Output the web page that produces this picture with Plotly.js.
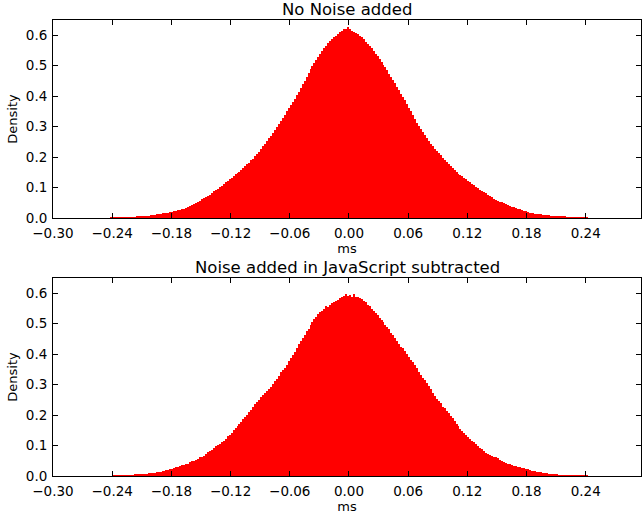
<!DOCTYPE html>
<html><head><meta charset="utf-8">
<script src="https://cdn.plot.ly/plotly-3.0.1.min.js"></script>
<style>html,body{margin:0;padding:0;background:#fff}#chart{width:642px;height:516px}</style>
</head><body><div id="chart"></div>
<script>
// histogram bins: first bin centre and bin width (ms)
const binStart = -0.243;
const binWidth = 0.002;
const subplotTitles = ["No Noise added", "Noise added in JavaScript subtracted"];
const xLabel = "ms";
const yLabel = "Density";

// density per bin, "No Noise added"
const noNoise = [
  0.001,0.002,0.003,0.003,0.003,0.003,0.003,0.003,0.003,0.003,0.004,0.004,0.004,0.004,0.005,0.005,0.006,0.006,0.007,0.007,
  0.008,0.009,0.010,0.011,0.012,0.013,0.014,0.015,0.016,0.017,0.018,0.020,0.021,0.022,0.023,0.025,0.027,0.029,0.031,0.034,
  0.036,0.040,0.043,0.046,0.049,0.053,0.057,0.061,0.065,0.069,0.073,0.077,0.082,0.087,0.091,0.096,0.101,0.106,0.111,0.117,
  0.122,0.127,0.132,0.137,0.143,0.148,0.152,0.158,0.164,0.170,0.176,0.182,0.189,0.195,0.202,0.210,0.217,0.226,0.235,0.244,
  0.252,0.262,0.270,0.280,0.289,0.299,0.308,0.318,0.329,0.339,0.350,0.360,0.371,0.381,0.392,0.404,0.415,0.427,0.439,0.451,
  0.464,0.476,0.488,0.498,0.510,0.520,0.530,0.540,0.549,0.557,0.566,0.573,0.581,0.587,0.593,0.599,0.605,0.609,0.615,0.619,
  0.622,0.626,0.619,0.615,0.609,0.607,0.603,0.597,0.593,0.587,0.579,0.571,0.565,0.557,0.548,0.540,0.532,0.522,0.513,0.503,
  0.495,0.485,0.474,0.464,0.453,0.443,0.431,0.419,0.408,0.396,0.386,0.374,0.362,0.350,0.338,0.326,0.313,0.303,0.292,0.282,
  0.271,0.261,0.252,0.244,0.236,0.228,0.221,0.213,0.206,0.198,0.191,0.183,0.177,0.171,0.164,0.158,0.152,0.146,0.141,0.137,
  0.132,0.127,0.121,0.117,0.111,0.107,0.101,0.097,0.093,0.089,0.085,0.081,0.077,0.072,0.068,0.064,0.060,0.056,0.053,0.051,
  0.048,0.045,0.042,0.040,0.037,0.035,0.032,0.030,0.028,0.026,0.024,0.022,0.020,0.018,0.017,0.015,0.014,0.013,0.012,0.012,
  0.011,0.010,0.010,0.009,0.008,0.008,0.007,0.007,0.006,0.006,0.005,0.005,0.004,0.004,0.003,0.003,0.003,0.003,0.002,0.002,
  0.002,0.002,0.002,0.001
];

// density per bin, "Noise added in JavaScript subtracted"
const jsNoise = [
  0.000,0.001,0.002,0.002,0.003,0.003,0.002,0.003,0.003,0.004,0.004,0.003,0.004,0.005,0.006,0.005,0.006,0.007,0.008,0.007,
  0.010,0.010,0.009,0.011,0.012,0.012,0.013,0.016,0.017,0.019,0.020,0.022,0.024,0.026,0.028,0.030,0.033,0.035,0.037,0.039,
  0.041,0.045,0.048,0.050,0.053,0.057,0.061,0.063,0.067,0.073,0.078,0.082,0.086,0.092,0.097,0.101,0.105,0.111,0.116,0.122,
  0.130,0.136,0.142,0.150,0.156,0.163,0.170,0.178,0.186,0.194,0.200,0.210,0.218,0.226,0.236,0.244,0.251,0.260,0.266,0.274,
  0.279,0.287,0.293,0.303,0.312,0.320,0.328,0.340,0.348,0.356,0.366,0.376,0.387,0.397,0.407,0.419,0.432,0.442,0.454,0.464,
  0.476,0.484,0.495,0.505,0.515,0.522,0.531,0.537,0.543,0.549,0.558,0.556,0.563,0.569,0.571,0.576,0.579,0.583,0.586,0.590,
  0.596,0.592,0.594,0.589,0.599,0.588,0.588,0.584,0.582,0.574,0.570,0.562,0.557,0.549,0.542,0.534,0.527,0.519,0.512,0.504,
  0.497,0.489,0.481,0.471,0.462,0.452,0.444,0.434,0.424,0.421,0.409,0.401,0.392,0.382,0.373,0.363,0.353,0.343,0.333,0.323,
  0.314,0.304,0.294,0.284,0.274,0.264,0.254,0.246,0.240,0.228,0.223,0.215,0.207,0.197,0.189,0.179,0.171,0.163,0.155,0.147,
  0.140,0.134,0.127,0.121,0.116,0.110,0.105,0.099,0.093,0.087,0.082,0.076,0.073,0.069,0.066,0.064,0.061,0.058,0.054,0.050,
  0.047,0.043,0.041,0.039,0.036,0.034,0.032,0.030,0.029,0.027,0.026,0.024,0.022,0.020,0.018,0.016,0.015,0.013,0.012,0.012,
  0.011,0.009,0.009,0.007,0.007,0.006,0.005,0.005,0.004,0.004,0.003,0.003,0.003,0.003,0.002,0.002,0.002,0.002,0.002,0.002,
  0.002,0.002,0.004,0.001
];

const FONT = 'DejaVu Sans';
function bar(y, xa, ya) {
  return {type:'bar', x0: binStart, dx: binWidth, y: y, width: binWidth,
    xaxis: xa, yaxis: ya, marker:{color:'#ff0000', line:{width:0}},
    hoverinfo:'x+y', showlegend:false};
}
const axBase = {showline:true, linecolor:'#000', linewidth:1, mirror:'allticks',
  ticks:'inside', ticklen:5, tickwidth:1, tickcolor:'#000', showgrid:false,
  zeroline:false, tickfont:{family:FONT, size:13.5, color:'#000'}};
function xax(anchor) {
  return Object.assign({}, axBase, {anchor: anchor, range:[-0.30, 0.296],
    tick0:0, dtick:0.06, tickformat:'.2f', ticklabelstandoff:3,
    title:{text:xLabel, font:{family:FONT, size:13, color:'#000'}, standoff:2}});
}
function yax(anchor, dom) {
  return Object.assign({}, axBase, {anchor: anchor, domain: dom, range:[0, 0.65],
    tick0:0, dtick:0.1, tickformat:'.1f', ticklabelstandoff:2,
    title:{text:yLabel, font:{family:FONT, size:13, color:'#000'}, standoff:5}});
}
const layout = {
  width:642, height:516, paper_bgcolor:'#fff', plot_bgcolor:'#fff',
  margin:{l:53, r:1, t:20, b:40}, bargap:0, barmode:'overlay',
  font:{family:FONT, color:'#000'},
  xaxis: xax('y'), yaxis: yax('x', [0.5658, 1]),
  xaxis2: xax('y2'), yaxis2: yax('x2', [0, 0.4342]),
  annotations: [
    {text: subplotTitles[0], xref:'paper', yref:'paper', x:0.5, y:1.0241,
     xanchor:'center', yanchor:'middle', showarrow:false, font:{family:FONT, size:16.5, color:'#000'}},
    {text: subplotTitles[1], xref:'paper', yref:'paper', x:0.5, y:0.4583,
     xanchor:'center', yanchor:'middle', showarrow:false, font:{family:FONT, size:16.5, color:'#000'}}
  ]
};
Plotly.newPlot('chart', [bar(noNoise,'x','y'), bar(jsNoise,'x2','y2')], layout, {displayModeBar:false, staticPlot:true});
</script>
</body></html>
